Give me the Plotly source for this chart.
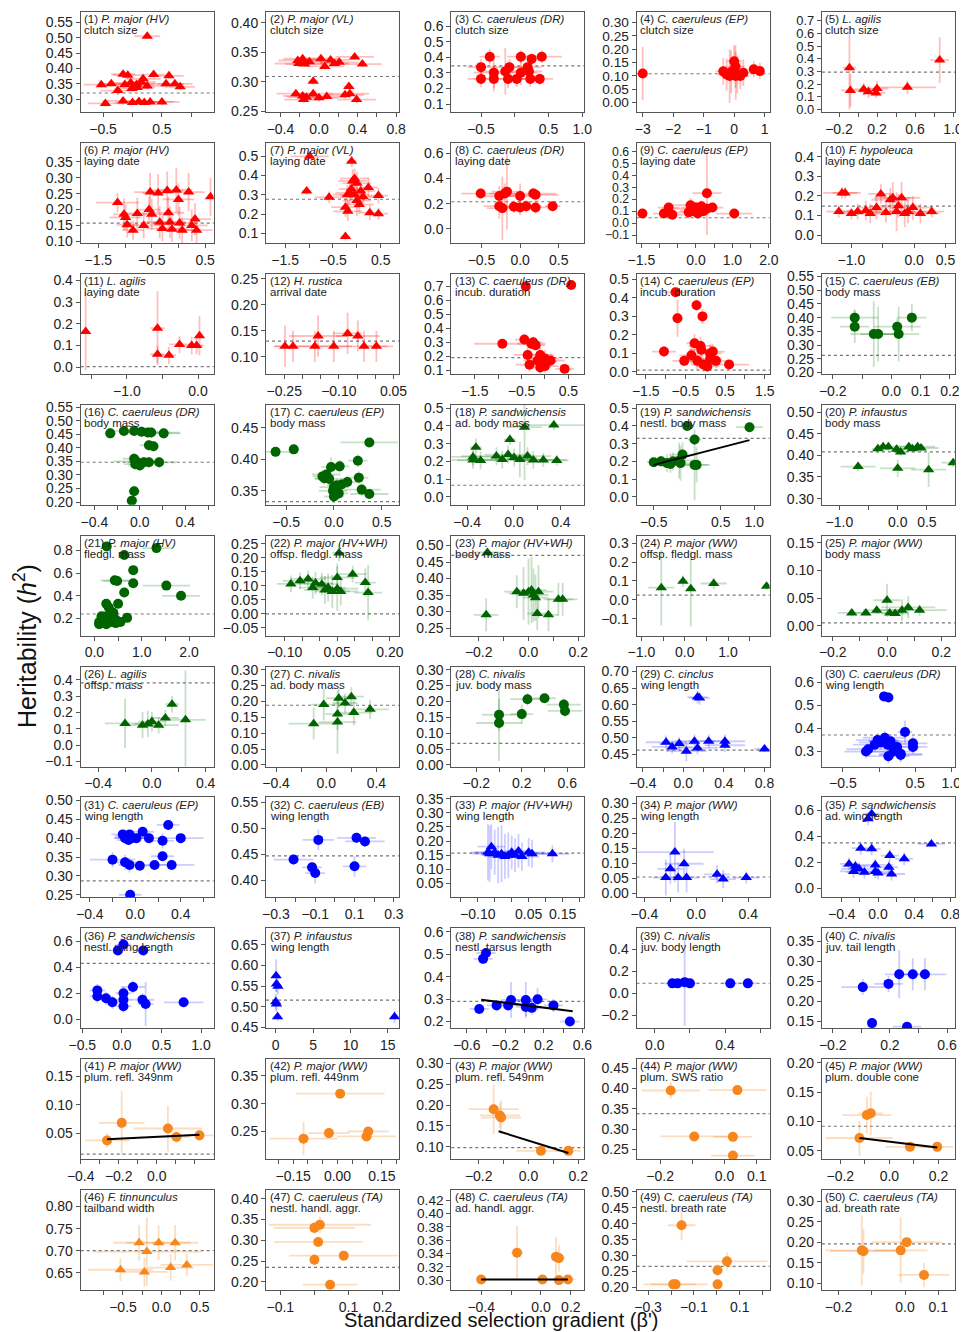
import plotly.graph_objects as go

# The page body adds an 8 px margin, so the figure is sized and placed to sit on the reference grid.
OFF = 8
W, H = 967 - OFF, 1332 - OFF

SPECIES = ["P. major (HV)", "P. major (VL)", "C. caeruleus (DR)", "C. caeruleus (EP)", "L. agilis",
           "P. major (HV)", "P. major (VL)", "C. caeruleus (DR)", "C. caeruleus (EP)", "F. hypoleuca",
           "L. agilis", "H. rustica", "C. caeruleus (DR)", "C. caeruleus (EP)", "C. caeruleus (EB)",
           "C. caeruleus (DR)", "C. caeruleus (EP)", "P. sandwichensis", "P. sandwichensis", "P. infaustus",
           "P. major (HV)", "P. major (HV+WH)", "P. major (HV+WH)", "P. major (WW)", "P. major (WW)",
           "L. agilis", "C. nivalis", "C. nivalis", "C. cinclus", "C. caeruleus (DR)",
           "C. caeruleus (EP)", "C. caeruleus (EB)", "P. major (HV+WH)", "P. major (WW)", "P. sandwichensis",
           "P. sandwichensis", "P. infaustus", "P. sandwichensis", "C. nivalis", "C. nivalis",
           "P. major (WW)", "P. major (WW)", "P. major (WW)", "P. major (WW)", "P. major (WW)",
           "F. tinnunculus", "C. caeruleus (TA)", "C. caeruleus (TA)", "C. caeruleus (TA)", "C. caeruleus (TA)"]
TRAITS = ["clutch size", "clutch size", "clutch size", "clutch size", "clutch size",
          "laying date", "laying date", "laying date", "laying date", "laying date",
          "laying date", "arrival date", "incub. duration", "incub. duration", "body mass",
          "body mass", "body mass", "ad. body mass", "nestl. body mass", "body mass",
          "fledgl. mass", "offsp. fledgl. mass", "body mass", "offsp. fledgl. mass", "body mass",
          "offsp. mass", "ad. body mass", "juv. body mass", "wing length", "wing length",
          "wing length", "wing length", "wing length", "wing length", "ad. wing length",
          "nestl. wing length", "wing length", "nestl. tarsus length", "juv. body length", "juv. tail length",
          "plum. refl. 349nm", "plum. refl. 449nm", "plum. refl. 549nm", "plum. SWS ratio", "plum. double cone",
          "tailband width", "nestl. handl. aggr.", "ad. handl. aggr.", "nestl. breath rate", "ad. breath rate"]
GROUP = ["red"] * 14 + ["green"] * 14 + ["blue"] * 12 + ["orange"] * 10
TRIANGLE_PANELS = [1, 2, 5, 6, 7, 10, 11, 12, 18, 20, 22, 23, 24, 25, 26, 27, 29, 33, 34, 35, 37, 46]

# points per panel: (selection gradient, heritability, gradient SE, heritability SE)
P01 = [(0.25, 0.505, 0.22, 0.005), (-0.16, 0.381, 0.2, 0.01), (-0.08, 0.378, 0.25, 0.012), (0.36, 0.38, 0.2, 0.01),
       (0.62, 0.376, 0.25, 0.01), (-0.53, 0.347, 0.3, 0.01), (-0.36, 0.35, 0.2, 0.01), (-0.25, 0.328, 0.3, 0.015),
       (-0.13, 0.348, 0.35, 0.01), (-0.03, 0.353, 0.3, 0.012), (0.07, 0.348, 0.3, 0.01), (0.15, 0.355, 0.25, 0.015),
       (0.25, 0.343, 0.3, 0.01), (0.18, 0.366, 0.3, 0.01), (0.57, 0.35, 0.3, 0.01), (0.72, 0.35, 0.3, 0.01),
       (0.81, 0.34, 0.25, 0.01), (-0.01, 0.335, 0.3, 0.01), (0.08, 0.338, 0.3, 0.01), (-0.46, 0.286, 0.3, 0.01),
       (-0.16, 0.294, 0.35, 0.012), (0.0, 0.289, 0.3, 0.01), (0.11, 0.292, 0.3, 0.01), (0.2, 0.289, 0.35, 0.01),
       (0.3, 0.291, 0.4, 0.01), (0.5, 0.291, 0.3, 0.01)]
P02 = [(-0.17, 0.339, 0.2, 0.005), (-0.21, 0.331, 0.25, 0.006), (-0.15, 0.33, 0.2, 0.005), (-0.1, 0.334, 0.15, 0.006),
       (0.02, 0.339, 0.2, 0.006), (0.06, 0.326, 0.2, 0.005), (0.12, 0.337, 0.2, 0.005), (0.16, 0.331, 0.15, 0.005),
       (0.21, 0.333, 0.2, 0.006), (0.37, 0.342, 0.2, 0.005), (0.45, 0.33, 0.2, 0.005), (-0.22, 0.336, 0.2, 0.005),
       (-0.24, 0.28, 0.2, 0.006), (-0.17, 0.276, 0.2, 0.006), (-0.13, 0.274, 0.2, 0.005), (-0.06, 0.28, 0.2, 0.006),
       (0.0, 0.273, 0.2, 0.006), (0.08, 0.275, 0.2, 0.005), (0.27, 0.278, 0.2, 0.006), (0.32, 0.28, 0.2, 0.006),
       (0.39, 0.27, 0.2, 0.006), (-0.06, 0.301, 0.05, 0.006), (0.31, 0.292, 0.05, 0.006), (-0.16, 0.27, 0.2, 0.006)]
P03 = [(-0.37, 0.404, 0.15, 0.05), (0.09, 0.404, 0.2, 0.04), (0.25, 0.39, 0.2, 0.04), (0.4, 0.404, 0.3, 0.04),
       (-0.5, 0.337, 0.2, 0.05), (-0.08, 0.337, 0.25, 0.05), (0.19, 0.337, 0.2, 0.05), (-0.31, 0.302, 0.3, 0.1),
       (-0.14, 0.31, 0.3, 0.15), (0.09, 0.302, 0.25, 0.08), (0.21, 0.31, 0.2, 0.05), (-0.5, 0.262, 0.2, 0.05),
       (-0.31, 0.262, 0.3, 0.08), (-0.1, 0.262, 0.25, 0.06), (0.03, 0.262, 0.2, 0.05), (0.23, 0.262, 0.2, 0.05),
       (0.37, 0.262, 0.2, 0.04)]
P04 = [(-3.0, 0.109, 0.05, 0.1), (-0.36, 0.117, 0.25, 0.05), (-0.25, 0.105, 0.3, 0.06), (-0.1, 0.115, 0.2, 0.08),
       (0.0, 0.155, 0.25, 0.06), (0.04, 0.135, 0.3, 0.08), (0.1, 0.105, 0.35, 0.07), (0.2, 0.1, 0.3, 0.05),
       (0.3, 0.112, 0.3, 0.05), (0.64, 0.125, 0.15, 0.03), (0.84, 0.118, 0.1, 0.03), (-0.15, 0.1, 0.3, 0.1),
       (0.05, 0.1, 0.4, 0.09)]
P05 = [(-0.09, 0.33, 0.07, 0.33), (-0.08, 0.15, 0.1, 0.13), (0.06, 0.16, 0.1, 0.05), (0.11, 0.14, 0.1, 0.05),
       (0.19, 0.13, 0.1, 0.04), (0.2, 0.165, 0.12, 0.06), (0.52, 0.175, 0.3, 0.05), (0.86, 0.39, 0.1, 0.18)]
P06 = [(-1.14, 0.222, 0.4, 0.03), (-1.02, 0.185, 0.2, 0.05), (-0.99, 0.175, 0.3, 0.04), (-0.96, 0.152, 0.2, 0.04),
       (-0.85, 0.135, 0.2, 0.03), (-0.77, 0.188, 0.3, 0.05), (-0.65, 0.15, 0.3, 0.04), (-0.53, 0.255, 0.3, 0.06),
       (-0.5, 0.185, 0.3, 0.05), (-0.55, 0.2, 0.2, 0.04), (-0.38, 0.252, 0.3, 0.06), (-0.35, 0.16, 0.3, 0.05),
       (-0.3, 0.14, 0.3, 0.04), (-0.21, 0.26, 0.3, 0.06), (-0.19, 0.19, 0.3, 0.05), (-0.16, 0.16, 0.3, 0.05),
       (-0.12, 0.138, 0.3, 0.04), (-0.04, 0.262, 0.3, 0.07), (0.0, 0.232, 0.3, 0.05), (0.02, 0.158, 0.3, 0.05),
       (0.07, 0.135, 0.3, 0.04), (0.19, 0.255, 0.3, 0.06), (0.25, 0.15, 0.3, 0.05), (0.31, 0.17, 0.3, 0.05),
       (0.34, 0.135, 0.3, 0.04), (0.6, 0.24, 0.05, 0.06)]
P07 = [(-0.99, 0.5, 0.4, 0.01), (-0.11, 0.474, 0.1, 0.03), (-1.05, 0.32, 0.1, 0.02), (-0.58, 0.287, 0.3, 0.03),
       (-0.24, 0.236, 0.3, 0.05), (-0.19, 0.214, 0.3, 0.05), (0.0, 0.27, 0.3, 0.08), (-0.09, 0.372, 0.3, 0.06),
       (-0.05, 0.385, 0.3, 0.05), (0.0, 0.36, 0.3, 0.06), (-0.15, 0.31, 0.3, 0.06), (-0.12, 0.33, 0.25, 0.05),
       (-0.05, 0.3, 0.3, 0.05), (0.08, 0.32, 0.3, 0.05), (0.13, 0.29, 0.3, 0.05), (0.24, 0.338, 0.2, 0.05),
       (0.27, 0.207, 0.2, 0.04), (0.45, 0.296, 0.2, 0.04), (0.45, 0.202, 0.2, 0.03), (-0.24, 0.083, 0.1, 0.02),
       (-0.2, 0.3, 0.3, 0.05), (0.05, 0.25, 0.3, 0.05)]
P08 = [(-0.51, 0.28, 0.25, 0.04), (-0.27, 0.26, 0.2, 0.08), (-0.2, 0.28, 0.2, 0.08), (-0.17, 0.295, 0.2, 0.3),
       (0.0, 0.26, 0.2, 0.1), (0.17, 0.28, 0.3, 0.05), (0.2, 0.27, 0.3, 0.05), (-0.27, 0.18, 0.2, 0.1),
       (-0.23, 0.165, 0.2, 0.25), (-0.08, 0.175, 0.2, 0.05), (0.0, 0.17, 0.2, 0.06), (0.08, 0.18, 0.2, 0.05),
       (0.2, 0.17, 0.2, 0.05), (0.42, 0.18, 0.1, 0.03)]
P09 = [(-1.47, 0.08, 0.1, 0.02), (-0.88, 0.08, 0.3, 0.02), (-0.75, 0.13, 0.3, 0.04), (-0.65, 0.07, 0.3, 0.03),
       (-0.2, 0.09, 0.4, 0.05), (-0.15, 0.15, 0.5, 0.06), (-0.1, 0.12, 0.5, 0.05), (-0.05, 0.1, 0.4, 0.05),
       (0.0, 0.13, 0.4, 0.05), (0.05, 0.08, 0.3, 0.04), (0.1, 0.11, 0.3, 0.04), (0.15, 0.14, 0.4, 0.05),
       (0.2, 0.1, 0.3, 0.04), (0.3, 0.12, 0.3, 0.05), (0.45, 0.13, 0.3, 0.03), (0.3, 0.25, 0.4, 0.35),
       (1.05, 0.08, 0.5, 0.03)]
P10 = [(-1.2, 0.12, 0.2, 0.03), (-1.15, 0.215, 0.3, 0.03), (-1.1, 0.215, 0.2, 0.03), (-1.0, 0.11, 0.2, 0.03),
       (-0.9, 0.12, 0.3, 0.04), (-0.77, 0.125, 0.3, 0.05), (-0.7, 0.11, 0.3, 0.05), (-0.6, 0.14, 0.3, 0.06),
       (-0.53, 0.21, 0.2, 0.05), (-0.45, 0.115, 0.3, 0.05), (-0.38, 0.18, 0.3, 0.06), (-0.34, 0.19, 0.3, 0.08),
       (-0.28, 0.12, 0.3, 0.1), (-0.2, 0.19, 0.3, 0.08), (-0.15, 0.11, 0.3, 0.07), (-0.1, 0.12, 0.3, 0.06),
       (-0.02, 0.14, 0.3, 0.06), (0.1, 0.11, 0.3, 0.05), (0.28, 0.12, 0.2, 0.03), (-0.25, 0.15, 0.3, 0.06)]
P11 = [(-1.58, 0.165, 0.02, 0.18), (-0.57, 0.18, 0.1, 0.17), (-0.57, 0.06, 0.1, 0.04), (-0.41, 0.055, 0.1, 0.04),
       (-0.26, 0.105, 0.15, 0.04), (-0.09, 0.1, 0.15, 0.04), (-0.02, 0.1, 0.1, 0.04), (0.02, 0.145, 0.02, 0.09)]
P12 = [(-0.248, 0.12, 0.03, 0.04), (-0.226, 0.12, 0.05, 0.03), (-0.166, 0.12, 0.05, 0.03), (-0.157, 0.14, 0.08, 0.04),
       (-0.114, 0.12, 0.05, 0.03), (-0.076, 0.145, 0.04, 0.04), (-0.048, 0.14, 0.06, 0.03), (-0.031, 0.12, 0.08, 0.03),
       (0.003, 0.12, 0.03, 0.03)]
P13 = [(-0.41, 0.7, 0.1, 0.01), (0.56, 0.71, 0.1, 0.01), (-0.91, 0.29, 0.6, 0.02), (-0.29, 0.29, 0.3, 0.04),
       (-0.44, 0.32, 0.2, 0.04), (-0.25, 0.3, 0.2, 0.04), (-0.2, 0.28, 0.2, 0.04), (-0.37, 0.21, 0.3, 0.06),
       (-0.33, 0.14, 0.3, 0.05), (-0.16, 0.17, 0.3, 0.06), (-0.1, 0.21, 0.3, 0.06), (-0.05, 0.16, 0.3, 0.05),
       (0.0, 0.185, 0.3, 0.06), (0.12, 0.17, 0.3, 0.05), (-0.1, 0.12, 0.2, 0.05), (0.0, 0.13, 0.3, 0.05),
       (0.42, 0.11, 0.2, 0.02)]
P14 = [(-0.75, 0.43, 0.3, 0.02), (-0.22, 0.36, 0.1, 0.03), (-0.7, 0.29, 0.1, 0.1), (-0.07, 0.3, 0.1, 0.04),
       (-1.04, 0.11, 0.3, 0.03), (-0.27, 0.155, 0.2, 0.05), (-0.12, 0.14, 0.3, 0.05), (-0.1, 0.12, 0.3, 0.05),
       (0.12, 0.1, 0.3, 0.05), (0.19, 0.11, 0.3, 0.04), (-0.53, 0.06, 0.3, 0.03), (-0.35, 0.09, 0.3, 0.05),
       (-0.2, 0.06, 0.3, 0.05), (-0.05, 0.04, 0.3, 0.04), (0.12, 0.07, 0.3, 0.04), (0.05, 0.03, 0.3, 0.03),
       (0.27, 0.06, 0.3, 0.04), (0.6, 0.04, 0.5, 0.02)]
P15 = [(-0.125, 0.40, 0.08, 0.03), (-0.125, 0.367, 0.05, 0.06), (-0.06, 0.34, 0.08, 0.12), (-0.045, 0.34, 0.06, 0.1),
       (0.02, 0.367, 0.08, 0.03), (0.025, 0.34, 0.07, 0.1), (0.07, 0.40, 0.05, 0.05)]
P16 = [(-0.26, 0.454, 0.05, 0.02), (-0.14, 0.463, 0.1, 0.015), (-0.05, 0.463, 0.1, 0.015), (0.015, 0.46, 0.15, 0.02),
       (0.07, 0.457, 0.2, 0.02), (0.1, 0.457, 0.25, 0.02), (0.21, 0.454, 0.15, 0.02), (0.08, 0.41, 0.08, 0.02),
       (0.12, 0.406, 0.05, 0.02), (-0.05, 0.36, 0.1, 0.02), (-0.03, 0.35, 0.2, 0.02), (-0.04, 0.34, 0.1, 0.02),
       (0.0, 0.335, 0.1, 0.02), (0.035, 0.347, 0.15, 0.02), (0.08, 0.347, 0.1, 0.02), (0.17, 0.347, 0.15, 0.02),
       (-0.05, 0.24, 0.05, 0.02), (-0.07, 0.205, 0.05, 0.015)]
P17 = [(-0.61, 0.412, 0.15, 0.005), (-0.42, 0.416, 0.05, 0.005), (0.37, 0.427, 0.3, 0.005), (0.25, 0.398, 0.1, 0.01),
       (-0.03, 0.388, 0.1, 0.015), (0.06, 0.389, 0.1, 0.01), (-0.08, 0.376, 0.15, 0.01), (-0.12, 0.373, 0.1, 0.01),
       (-0.1, 0.37, 0.1, 0.01), (-0.05, 0.369, 0.15, 0.01), (0.26, 0.371, 0.1, 0.01), (0.03, 0.359, 0.1, 0.01),
       (0.08, 0.36, 0.1, 0.01), (0.14, 0.364, 0.1, 0.01), (0.0, 0.356, 0.15, 0.01), (-0.01, 0.35, 0.15, 0.01),
       (0.05, 0.346, 0.1, 0.01), (0.29, 0.352, 0.2, 0.01), (0.0, 0.341, 0.1, 0.01), (0.37, 0.345, 0.2, 0.005)]
P18 = [(0.09, 0.393, 0.15, 0.3), (0.34, 0.405, 0.3, 0.03), (-0.035, 0.323, 0.05, 0.03), (-0.325, 0.279, 0.05, 0.05),
       (-0.35, 0.225, 0.2, 0.05), (-0.35, 0.208, 0.2, 0.05), (-0.285, 0.205, 0.2, 0.05), (-0.15, 0.23, 0.3, 0.05),
       (-0.1, 0.21, 0.3, 0.05), (-0.05, 0.238, 0.2, 0.05), (0.0, 0.221, 0.2, 0.05), (0.05, 0.21, 0.2, 0.1),
       (0.115, 0.23, 0.2, 0.05), (0.165, 0.208, 0.2, 0.05), (0.25, 0.208, 0.2, 0.04), (0.365, 0.205, 0.1, 0.03)]
P19 = [(0.0, 0.4, 0.1, 0.01), (0.93, 0.393, 0.2, 0.01), (0.11, 0.323, 0.1, 0.03), (-0.5, 0.195, 0.1, 0.02),
       (-0.39, 0.2, 0.15, 0.03), (-0.3, 0.19, 0.2, 0.05), (-0.21, 0.2, 0.2, 0.05), (-0.25, 0.185, 0.2, 0.05),
       (-0.07, 0.238, 0.2, 0.07), (-0.12, 0.205, 0.3, 0.1), (-0.1, 0.19, 0.2, 0.1), (0.11, 0.18, 0.2, 0.2),
       (0.14, 0.18, 0.2, 0.1)]
P20 = [(-0.68, 0.374, 0.3, 0.01), (-0.34, 0.415, 0.1, 0.01), (-0.25, 0.42, 0.1, 0.01), (-0.16, 0.42, 0.2, 0.01),
       (-0.02, 0.414, 0.2, 0.01), (0.05, 0.408, 0.1, 0.01), (0.19, 0.42, 0.2, 0.01), (0.25, 0.415, 0.2, 0.01),
       (0.34, 0.42, 0.3, 0.01), (0.4, 0.417, 0.3, 0.01), (0.0, 0.37, 0.3, 0.02), (0.53, 0.367, 0.3, 0.04),
       (0.95, 0.383, 0.2, 0.01)]
P21 = [(0.26, 0.835, 0.1, 0.02), (1.31, 0.82, 0.3, 0.02), (0.63, 0.76, 0.1, 0.02), (0.82, 0.626, 0.1, 0.02),
       (0.43, 0.536, 0.3, 0.02), (0.48, 0.53, 0.3, 0.02), (0.82, 0.51, 0.1, 0.02), (1.52, 0.49, 0.5, 0.02),
       (0.63, 0.43, 0.1, 0.02), (1.83, 0.4, 0.4, 0.02), (0.5, 0.33, 0.1, 0.02), (0.25, 0.33, 0.1, 0.02),
       (0.3, 0.3, 0.1, 0.03), (0.69, 0.206, 0.1, 0.02), (0.35, 0.26, 0.1, 0.03), (0.1, 0.17, 0.1, 0.02),
       (0.15, 0.18, 0.1, 0.02), (0.2, 0.2, 0.1, 0.03), (0.25, 0.22, 0.1, 0.03), (0.3, 0.2, 0.1, 0.03),
       (0.35, 0.17, 0.1, 0.02), (0.4, 0.22, 0.1, 0.03), (0.45, 0.16, 0.1, 0.02), (0.2, 0.16, 0.1, 0.02),
       (0.15, 0.22, 0.1, 0.02), (0.25, 0.15, 0.1, 0.02), (0.4, 0.25, 0.1, 0.03), (0.45, 0.19, 0.1, 0.02),
       (0.1, 0.15, 0.1, 0.02), (0.55, 0.17, 0.1, 0.02)]
P22 = [(-0.082, 0.107, 0.04, 0.03), (-0.056, 0.118, 0.05, 0.03), (-0.033, 0.125, 0.05, 0.03), (-0.02, 0.094, 0.04, 0.04),
       (-0.012, 0.11, 0.05, 0.04), (0.006, 0.106, 0.05, 0.04), (0.015, 0.085, 0.06, 0.05), (0.024, 0.094, 0.05, 0.05),
       (0.05, 0.13, 0.05, 0.05), (0.055, 0.218, 0.02, 0.03), (0.094, 0.142, 0.04, 0.03), (0.13, 0.112, 0.03, 0.05),
       (0.138, 0.076, 0.04, 0.1), (0.05, 0.09, 0.06, 0.08), (0.036, 0.08, 0.05, 0.06), (0.06, 0.08, 0.05, 0.05)]
P23 = [(-0.165, 0.479, 0.05, 0.01), (-0.17, 0.29, 0.05, 0.05), (-0.047, 0.36, 0.05, 0.05), (-0.02, 0.355, 0.06, 0.08),
       (0.0, 0.36, 0.05, 0.1), (0.012, 0.365, 0.06, 0.1), (0.02, 0.35, 0.06, 0.08), (0.04, 0.36, 0.06, 0.08),
       (0.028, 0.342, 0.05, 0.07), (0.035, 0.294, 0.04, 0.05), (0.08, 0.29, 0.04, 0.05), (0.12, 0.337, 0.06, 0.05),
       (0.137, 0.337, 0.06, 0.05)]
P24 = [(-0.54, 0.064, 0.3, 0.2), (-0.04, 0.098, 0.1, 0.03), (0.14, 0.058, 0.1, 0.2), (0.67, 0.086, 0.3, 0.03),
       (1.89, 0.072, 0.05, 0.02)]
P25 = [(-0.13, 0.023, 0.05, 0.005), (-0.078, 0.023, 0.05, 0.005), (-0.038, 0.028, 0.05, 0.005), (0.0, 0.046, 0.05, 0.03),
       (0.01, 0.023, 0.05, 0.005), (0.03, 0.022, 0.05, 0.005), (0.055, 0.028, 0.08, 0.02), (0.078, 0.033, 0.1, 0.02),
       (0.12, 0.028, 0.1, 0.01)]
P26 = [(-0.2, 0.133, 0.15, 0.15), (-0.07, 0.122, 0.1, 0.08), (-0.03, 0.13, 0.1, 0.08), (0.0, 0.144, 0.1, 0.06),
       (0.05, 0.122, 0.15, 0.05), (0.1, 0.166, 0.1, 0.05), (0.15, 0.25, 0.05, 0.05), (0.25, 0.155, 0.15, 0.3)]
P27 = [(0.1, 0.21, 0.1, 0.03), (0.15, 0.195, 0.1, 0.03), (0.2, 0.215, 0.1, 0.03), (-0.02, 0.19, 0.1, 0.05),
       (0.09, 0.16, 0.1, 0.05), (0.22, 0.165, 0.15, 0.04), (0.35, 0.175, 0.15, 0.03), (-0.1, 0.13, 0.2, 0.05),
       (0.09, 0.135, 0.15, 0.1)]
P28 = [(0.0, 0.132, 0.2, 0.12), (0.0, 0.158, 0.15, 0.05), (0.2, 0.16, 0.1, 0.03), (0.25, 0.207, 0.15, 0.02),
       (0.4, 0.21, 0.1, 0.01), (0.57, 0.19, 0.15, 0.02), (0.58, 0.17, 0.15, 0.02)]
P29 = [(0.14, 0.623, 0.1, 0.02), (0.16, 0.62, 0.1, 0.02), (-0.17, 0.487, 0.2, 0.02), (-0.11, 0.473, 0.2, 0.02),
       (-0.04, 0.483, 0.2, 0.02), (0.03, 0.46, 0.2, 0.03), (0.11, 0.49, 0.2, 0.02), (0.14, 0.47, 0.2, 0.02),
       (0.25, 0.49, 0.2, 0.02), (0.41, 0.49, 0.2, 0.02), (0.41, 0.478, 0.2, 0.02), (0.8, 0.467, 0.1, 0.01)]
P30 = [(0.07, 0.54, 0.05, 0.01), (0.13, 0.535, 0.05, 0.01), (0.36, 0.385, 0.1, 0.05), (-0.06, 0.33, 0.3, 0.03),
       (-0.02, 0.35, 0.3, 0.03), (0.02, 0.34, 0.3, 0.03), (0.08, 0.36, 0.3, 0.03), (0.12, 0.33, 0.3, 0.03),
       (0.16, 0.345, 0.3, 0.03), (0.2, 0.3, 0.3, 0.03), (0.25, 0.32, 0.3, 0.03), (0.3, 0.29, 0.3, 0.03),
       (0.47, 0.336, 0.2, 0.03), (0.47, 0.32, 0.2, 0.03), (-0.18, 0.3, 0.3, 0.03), (0.13, 0.28, 0.3, 0.03),
       (0.3, 0.285, 0.3, 0.03), (-0.15, 0.31, 0.3, 0.02), (0.05, 0.345, 0.2, 0.03)]
P31 = [(0.29, 0.435, 0.1, 0.01), (0.4, 0.4, 0.2, 0.01), (0.24, 0.393, 0.1, 0.02), (-0.11, 0.41, 0.1, 0.01),
       (-0.08, 0.405, 0.1, 0.01), (-0.05, 0.41, 0.1, 0.01), (-0.03, 0.4, 0.15, 0.01), (0.01, 0.4, 0.15, 0.01),
       (0.065, 0.417, 0.1, 0.01), (0.12, 0.4, 0.1, 0.01), (-0.06, 0.395, 0.1, 0.01), (-0.09, 0.4, 0.1, 0.01),
       (-0.2, 0.343, 0.2, 0.02), (-0.09, 0.336, 0.1, 0.02), (-0.05, 0.329, 0.1, 0.02), (0.04, 0.327, 0.1, 0.01),
       (0.17, 0.329, 0.1, 0.01), (0.24, 0.352, 0.1, 0.01), (0.32, 0.329, 0.2, 0.01), (-0.045, 0.25, 0.1, 0.005)]
P32 = [(-0.21, 0.44, 0.1, 0.01), (-0.116, 0.425, 0.05, 0.01), (-0.1, 0.414, 0.05, 0.02), (-0.084, 0.478, 0.08, 0.02),
       (0.11, 0.482, 0.1, 0.01), (0.153, 0.475, 0.1, 0.01), (0.1, 0.427, 0.06, 0.02)]
P33 = [(-0.06, 0.18, 0.04, 0.08), (-0.065, 0.155, 0.05, 0.1), (-0.05, 0.16, 0.06, 0.08), (-0.04, 0.15, 0.05, 0.1),
       (-0.03, 0.155, 0.05, 0.1), (-0.02, 0.145, 0.05, 0.08), (-0.01, 0.15, 0.05, 0.08), (0.0, 0.16, 0.04, 0.06),
       (0.01, 0.15, 0.05, 0.06), (0.02, 0.165, 0.04, 0.06), (0.03, 0.145, 0.05, 0.05), (0.05, 0.16, 0.05, 0.05),
       (0.06, 0.155, 0.05, 0.05), (0.12, 0.155, 0.05, 0.03), (-0.07, 0.16, 0.05, 0.1)]
P34 = [(-0.165, 0.138, 0.3, 0.1), (-0.2, 0.082, 0.1, 0.05), (-0.094, 0.099, 0.15, 0.05), (-0.235, 0.053, 0.1, 0.06),
       (-0.14, 0.053, 0.1, 0.05), (-0.075, 0.053, 0.1, 0.05), (0.16, 0.064, 0.1, 0.03), (0.207, 0.048, 0.1, 0.03),
       (0.385, 0.053, 0.1, 0.02)]
P35 = [(-0.07, 0.574, 0.1, 0.03), (-0.11, 0.535, 0.05, 0.05), (0.59, 0.342, 0.15, 0.02), (-0.19, 0.309, 0.1, 0.05),
       (-0.07, 0.304, 0.1, 0.05), (-0.32, 0.188, 0.1, 0.05), (-0.21, 0.15, 0.2, 0.05), (-0.15, 0.124, 0.2, 0.05),
       (-0.03, 0.18, 0.2, 0.05), (0.13, 0.252, 0.1, 0.05), (0.29, 0.227, 0.1, 0.05), (0.12, 0.162, 0.1, 0.05),
       (0.15, 0.11, 0.15, 0.05), (-0.27, 0.13, 0.15, 0.05), (-0.03, 0.13, 0.15, 0.05), (0.0, 0.118, 0.15, 0.05),
       (-0.25, 0.17, 0.15, 0.05)]
P36 = [(-0.05, 0.53, 0.1, 0.02), (0.02, 0.575, 0.1, 0.03), (0.27, 0.53, 0.1, 0.02), (-0.31, 0.222, 0.1, 0.05),
       (-0.31, 0.177, 0.1, 0.05), (-0.2, 0.162, 0.1, 0.05), (-0.12, 0.13, 0.1, 0.05), (0.02, 0.2, 0.1, 0.05),
       (0.02, 0.15, 0.1, 0.05), (0.14, 0.248, 0.15, 0.05), (0.02, 0.1, 0.1, 0.05), (0.26, 0.15, 0.15, 0.05),
       (0.3, 0.117, 0.1, 0.17), (0.78, 0.13, 0.25, 0.02)]
P37 = [(0.05, 0.575, 0.2, 0.04), (0.1, 0.555, 0.2, 0.02), (0.3, 0.55, 0.2, 0.02), (0.0, 0.512, 0.3, 0.02),
       (0.1, 0.507, 0.3, 0.02), (0.25, 0.476, 0.2, 0.01), (15.9, 0.476, 0.1, 0.015)]
P38 = [(-0.43, 0.479, 0.1, 0.02), (-0.4, 0.505, 0.1, 0.02), (-0.47, 0.256, 0.1, 0.02), (-0.29, 0.272, 0.1, 0.02),
       (-0.17, 0.272, 0.1, 0.02), (-0.14, 0.296, 0.1, 0.08), (0.013, 0.296, 0.15, 0.08), (0.013, 0.265, 0.1, 0.04),
       (0.075, 0.261, 0.1, 0.03), (0.135, 0.299, 0.1, 0.05), (0.3, 0.272, 0.1, 0.03), (0.47, 0.2, 0.1, 0.01)]
P39 = [(0.1, 0.089, 0.05, 0.02), (0.13, 0.089, 0.05, 0.02), (0.17, 0.1, 0.05, 0.4), (0.2, 0.089, 0.05, 0.02),
       (0.43, 0.089, 0.05, 0.02), (0.53, 0.089, 0.05, 0.01)]
P40 = [(0.01, 0.236, 0.15, 0.02), (0.075, 0.146, 0.02, 0.01), (0.19, 0.244, 0.1, 0.02), (0.265, 0.268, 0.1, 0.06),
       (0.32, 0.137, 0.1, 0.005), (0.36, 0.268, 0.1, 0.04), (0.445, 0.268, 0.15, 0.04)]
P41 = [(-0.261, 0.037, 0.117, 0.013), (-0.184, 0.068, 0.12, 0.056), (0.059, 0.058, 0.18, 0.04),
       (0.104, 0.043, 0.07, 0.01), (0.225, 0.046, 0.08, 0.01)]
P42 = [(0.009, 0.318, 0.15, 0.005), (-0.115, 0.237, 0.115, 0.03), (-0.029, 0.247, 0.07, 0.006),
       (0.104, 0.25, 0.07, 0.005), (0.098, 0.241, 0.1, 0.008)]
P43 = [(-0.14, 0.19, 0.1, 0.06), (-0.115, 0.175, 0.08, 0.03), (-0.11, 0.17, 0.08, 0.04), (0.05, 0.09, 0.1, 0.005),
       (0.16, 0.09, 0.05, 0.005)]
P44 = [(-0.167, 0.395, 0.09, 0.02), (0.04, 0.396, 0.09, 0.005), (-0.094, 0.282, 0.105, 0.008),
       (0.026, 0.281, 0.06, 0.008), (0.026, 0.235, 0.068, 0.005)]
P45 = [(-0.122, 0.072, 0.137, 0.03), (-0.092, 0.111, 0.1, 0.031), (-0.076, 0.114, 0.05, 0.037),
       (0.084, 0.057, 0.1, 0.004), (0.195, 0.057, 0.065, 0.004)]
P46 = [(-0.29, 0.718, 0.34, 0.04), (-0.036, 0.718, 0.42, 0.04), (0.178, 0.718, 0.3, 0.04), (-0.19, 0.698, 0.7, 0.077),
       (-0.533, 0.657, 0.42, 0.026), (-0.222, 0.652, 0.3, 0.033), (0.12, 0.662, 0.3, 0.03), (0.33, 0.668, 0.34, 0.025)]
P47 = [(0.0, 0.33, 0.12, 0.015), (0.016, 0.3375, 0.15, 0.02), (0.011, 0.296, 0.13, 0.01), (0.0, 0.253, 0.01, 0.015),
       (0.086, 0.263, 0.16, 0.01), (0.046, 0.193, 0.08, 0.008)]
P48 = [(-0.4, 0.301, 0.02, 0.003), (-0.16, 0.341, 0.04, 0.04), (0.01, 0.301, 0.02, 0.003), (0.1, 0.335, 0.03, 0.03),
       (0.12, 0.333, 0.04, 0.02), (0.12, 0.3, 0.02, 0.003), (0.18, 0.301, 0.05, 0.003)]
P49 = [(-0.154, 0.395, 0.06, 0.047), (0.044, 0.282, 0.176, 0.028), (0.003, 0.254, 0.005, 0.018),
       (-0.18, 0.21, 0.14, 0.005), (-0.19, 0.21, 0.1, 0.005), (0.003, 0.21, 0.005, 0.01)]
P50 = [(-0.13, 0.18, 0.11, 0.085), (-0.125, 0.178, 0.1, 0.055), (-0.013, 0.18, 0.08, 0.08), (0.005, 0.2, 0.105, 0.01),
       (0.057, 0.12, 0.077, 0.03)]

PANELS = [P01, P02, P03, P04, P05, P06, P07, P08, P09, P10, P11, P12, P13, P14, P15, P16, P17, P18, P19, P20,
          P21, P22, P23, P24, P25, P26, P27, P28, P29, P30, P31, P32, P33, P34, P35, P36, P37, P38, P39, P40,
          P41, P42, P43, P44, P45, P46, P47, P48, P49, P50]

# dotted reference heritability per panel (None = not drawn)
HREF = [0.32, 0.309, 0.345, 0.108, 0.295, 0.157, 0.277, 0.215, 0.045, 0.148,
        0.003, 0.13, 0.19, 0.01, 0.262, 0.347, 0.333, 0.065, 0.33, 0.408,
        0.24, 0.0, 0.47, 0.025, 0.005, 0.38, 0.188, 0.068, 0.463, 0.372,
        0.287, 0.447, 0.157, 0.055, 0.35, 0.43, 0.516, 0.29, 0.09, None,
        0.013, None, 0.098, 0.338, 0.092, 0.70, 0.235, None, 0.266, 0.196]

# significant regressions: panel -> (x0, y0, x1, y1)
REG = {19: (-0.5, 0.18, 0.93, 0.32), 38: (-0.45, 0.297, 0.5, 0.246), 41: (-0.261, 0.039, 0.225, 0.047),
       43: (-0.12, 0.137, 0.16, 0.085), 45: (-0.122, 0.072, 0.195, 0.056), 48: (-0.4, 0.301, 0.18, 0.301)}

YRANGE = [(0.258, 0.584), (0.249, 0.418), (0.05, 0.69), (-0.035, 0.339), (-0.02, 0.77),
          (0.095, 0.41), (0.05, 0.57), (-0.11, 0.68), (-0.165, 0.67), (-0.04, 0.47),
          (-0.03, 0.43), (0.067, 0.26), (0.075, 0.79), (-0.01, 0.53), (0.195, 0.56),
          (0.19, 0.56), (0.328, 0.487), (-0.045, 0.52), (-0.045, 0.52), (0.286, 0.517),
          (0.05, 0.93), (-0.078, 0.28), (0.227, 0.53), (-0.19, 0.34), (-0.018, 0.163),
          (-0.13, 0.48), (-0.005, 0.31), (-0.005, 0.31), (0.414, 0.715), (0.235, 0.67),
          (0.243, 0.508), (0.367, 0.56), (0.0, 0.355), (-0.013, 0.32), (-0.07, 0.7),
          (-0.07, 0.7), (0.448, 0.69), (0.17, 0.615), (-0.32, 0.59), (0.133, 0.383),
          (0.004, 0.18), (0.20, 0.38), (0.07, 0.31), (0.226, 0.472), (0.036, 0.206),
          (0.611, 0.837), (0.18, 0.421), (0.285, 0.435), (0.192, 0.505), (0.083, 0.327)]
# y ticks: (first, last, step, decimals)
YTICK = [(0.30, 0.55, 0.05, 2), (0.25, 0.40, 0.05, 2), (0.1, 0.6, 0.1, 1), (0.0, 0.30, 0.05, 2), (0.0, 0.7, 0.1, 1),
         (0.10, 0.35, 0.05, 2), (0.1, 0.5, 0.1, 1), (0.0, 0.6, 0.2, 1), (-0.1, 0.6, 0.1, 1), (0.0, 0.4, 0.1, 1),
         (0.0, 0.4, 0.1, 1), (0.10, 0.25, 0.05, 2), (0.1, 0.7, 0.1, 1), (0.0, 0.5, 0.1, 1), (0.20, 0.55, 0.05, 2),
         (0.20, 0.55, 0.05, 2), (0.35, 0.45, 0.05, 2), (0.0, 0.5, 0.1, 1), (0.0, 0.5, 0.1, 1), (0.30, 0.50, 0.05, 2),
         (0.2, 0.8, 0.2, 1), (-0.05, 0.25, 0.05, 2), (0.25, 0.50, 0.05, 2), (-0.1, 0.3, 0.1, 1), (0.0, 0.15, 0.05, 2),
         (-0.1, 0.4, 0.1, 1), (0.0, 0.30, 0.05, 2), (0.0, 0.30, 0.05, 2), (0.45, 0.70, 0.05, 2), (0.3, 0.6, 0.1, 1),
         (0.25, 0.50, 0.05, 2), (0.40, 0.55, 0.05, 2), (0.05, 0.35, 0.05, 2), (0.0, 0.30, 0.05, 2), (0.0, 0.6, 0.2, 1),
         (0.0, 0.6, 0.2, 1), (0.45, 0.65, 0.05, 2), (0.2, 0.6, 0.1, 1), (-0.2, 0.4, 0.2, 1), (0.15, 0.35, 0.05, 2),
         (0.05, 0.15, 0.05, 2), (0.25, 0.35, 0.05, 2), (0.10, 0.30, 0.05, 2), (0.25, 0.45, 0.05, 2), (0.05, 0.20, 0.05, 2),
         (0.65, 0.80, 0.05, 2), (0.20, 0.40, 0.05, 2), (0.30, 0.42, 0.02, 2), (0.20, 0.50, 0.05, 2), (0.10, 0.30, 0.05, 2)]

XRANGE = [(-0.88, 1.38), (-0.55, 0.83), (-0.94, 1.03), (-3.2, 1.16), (-0.38, 1.02),
          (-1.83, 0.66), (-1.9, 0.88), (-0.89, 0.83), (-1.63, 2.02), (-1.47, 0.65),
          (-1.65, 0.22), (-0.30, 0.065), (-2.0, 0.84), (-1.73, 1.62), (-0.237, 0.217),
          (-0.52, 0.65), (-0.71, 0.68), (-0.535, 0.6), (-0.755, 1.23), (-1.3, 0.98),
          (-0.29, 2.52), (-0.153, 0.226), (-0.31, 0.224), (-1.11, 1.96), (-0.24, 0.25),
          (-0.53, 0.46), (-0.48, 0.58), (-0.42, 0.75), (-0.46, 0.85), (-0.79, 1.05),
          (-0.48, 0.69), (-0.35, 0.326), (-0.178, 0.214), (-0.46, 0.565), (-0.62, 0.85),
          (-0.52, 1.16), (-1.3, 16.5), (-0.76, 0.62), (-0.104, 0.654), (-0.276, 0.655),
          (-0.40, 0.30), (-0.242, 0.208), (-0.31, 0.224), (-0.273, 0.14), (-0.275, 0.267),
          (-1.05, 0.68), (-0.142, 0.248), (-0.6, 0.29), (-0.35, 0.23), (-0.25, 0.15)]
# x ticks: (first, last, step, decimals, labelled values or None for all)
XTICK = [(-0.5, 1.0, 0.5, 1, [-0.5, 0.5]), (-0.4, 0.8, 0.2, 1, [-0.4, 0.0, 0.4, 0.8]),
         (-0.5, 1.0, 0.5, 1, [-0.5, 0.5, 1.0]), (-3, 1, 1, 0, None),
         (-0.2, 1.0, 0.2, 1, [-0.2, 0.2, 0.6, 1.0]), (-1.5, 0.5, 0.5, 1, [-1.5, -0.5, 0.5]),
         (-1.5, 0.5, 0.5, 1, [-1.5, -0.5, 0.5]), (-0.5, 0.5, 0.5, 1, None),
         (-1.5, 2.0, 0.5, 1, [-1.5, 0.0, 1.0, 2.0]), (-1.0, 0.5, 0.5, 1, [-1.0, 0.0, 0.5]),
         (-1.5, 0.0, 0.5, 1, [-1.0, 0.0]), (-0.25, 0.05, 0.05, 2, [-0.25, -0.10, 0.05]),
         (-1.5, 0.5, 0.5, 1, [-1.5, -0.5, 0.5]), (-1.5, 1.5, 0.5, 1, [-1.5, -0.5, 0.5, 1.5]),
         (-0.2, 0.2, 0.1, 1, [-0.2, 0.0, 0.1, 0.2]), (-0.4, 0.6, 0.2, 1, [-0.4, 0.0, 0.4]),
         (-0.5, 0.5, 0.5, 1, None), (-0.4, 0.4, 0.2, 1, [-0.4, 0.0, 0.4]),
         (-0.5, 1.0, 0.5, 1, [-0.5, 0.5, 1.0]), (-1.0, 0.5, 0.5, 1, [-1.0, 0.0, 0.5]),
         (0.0, 2.0, 0.5, 1, [0.0, 1.0, 2.0]), (-0.10, 0.20, 0.05, 2, [-0.10, 0.05, 0.20]),
         (-0.2, 0.2, 0.1, 1, [-0.2, 0.0, 0.2]), (-1.0, 1.5, 0.5, 1, [-1.0, 0.0, 1.0]),
         (-0.2, 0.2, 0.1, 1, [-0.2, 0.0, 0.2]), (-0.4, 0.4, 0.2, 1, [-0.4, 0.0, 0.4]),
         (-0.4, 0.4, 0.2, 1, [-0.4, 0.0, 0.4]), (-0.2, 0.6, 0.2, 1, [-0.2, 0.2, 0.6]),
         (-0.4, 0.8, 0.2, 1, [-0.4, 0.0, 0.4, 0.8]), (-0.5, 1.0, 0.5, 1, [-0.5, 0.5, 1.0]),
         (-0.4, 0.6, 0.2, 1, [-0.4, 0.0, 0.4]), (-0.3, 0.3, 0.1, 1, [-0.3, -0.1, 0.1, 0.3]),
         (-0.15, 0.20, 0.05, 2, [-0.10, 0.05, 0.15]), (-0.4, 0.4, 0.2, 1, [-0.4, 0.0, 0.4]),
         (-0.4, 0.8, 0.2, 1, [-0.4, 0.0, 0.4, 0.8]), (-0.5, 1.0, 0.5, 1, None),
         (0, 15, 5, 0, None), (-0.6, 0.6, 0.2, 1, [-0.6, -0.2, 0.2, 0.6]),
         (0.0, 0.6, 0.2, 1, [0.0, 0.4]), (-0.2, 0.6, 0.2, 1, [-0.2, 0.2, 0.6]),
         (-0.4, 0.2, 0.1, 1, [-0.4, -0.2, 0.0]), (-0.20, 0.20, 0.05, 2, [-0.15, 0.0, 0.15]),
         (-0.2, 0.2, 0.1, 1, [-0.2, 0.0, 0.2]), (-0.2, 0.1, 0.1, 1, [-0.2, 0.0, 0.1]),
         (-0.2, 0.2, 0.1, 1, [-0.2, 0.0, 0.2]), (-0.75, 0.5, 0.25, 1, [-0.5, 0.0, 0.5]),
         (-0.1, 0.2, 0.1, 1, [-0.1, 0.1, 0.2]), (-0.4, 0.2, 0.2, 1, [-0.4, 0.0, 0.2]),
         (-0.3, 0.2, 0.1, 1, [-0.3, -0.1, 0.1]), (-0.2, 0.1, 0.1, 1, [-0.2, 0.0, 0.1])]

# ---------------------------------------------------------------- styling / layout
MARK = {"red": "#FF0000", "green": "#006400", "blue": "#0000FF", "orange": "#F7861C"}
ERR = {"red": "rgba(255,0,0,0.25)", "green": "rgba(0,110,0,0.22)",
       "blue": "rgba(0,0,255,0.2)", "orange": "rgba(247,134,28,0.28)"}
COL_LEFT = [80.7, 266.0, 451.3, 636.6, 821.9]     # reference-pixel positions of the panel boxes
BOX_W = 133.0
ROW_TOP = [12.0 + 130.9 * i for i in range(10)]
BOX_H = 100.0
FONT = "Liberation Sans, Arial, Helvetica, sans-serif"
AXC = "#555555"


def px(xr):
    return (xr - OFF) / W


def py(yr):
    return 1 - (yr - OFF) / H


def make_ticks(first, last, step, dec, labelled=None):
    n = int(round((last - first) / step)) + 1
    vals = [round(first + i * step, 6) for i in range(n)]
    text = []
    for v in vals:
        if labelled is None or any(abs(v - l) < 1e-9 for l in labelled):
            s = f"{abs(v):.{dec}f}"
            if v < -1e-12:
                s = "\u2212" + s
            text.append(s)
        else:
            text.append(" ")
    return vals, text


fig = go.Figure()
layout = dict(template="none", width=W, height=H, margin=dict(l=0, r=0, t=0, b=0, pad=0, autoexpand=False),
              paper_bgcolor="white", plot_bgcolor="white", showlegend=False,
              font=dict(family=FONT, color="#222222"))
annotations = []
shapes = []

for i in range(50):
    k = i + 1
    r, c = divmod(i, 5)
    ytop = ROW_TOP[r]
    xa = "x" if k == 1 else f"x{k}"
    ya = "y" if k == 1 else f"y{k}"
    xname = "xaxis" if k == 1 else f"xaxis{k}"
    yname = "yaxis" if k == 1 else f"yaxis{k}"

    xv, xt = make_ticks(*XTICK[i])
    yt0, yt1, yst, ydec = YTICK[i]
    yv, ytt = make_ticks(yt0, yt1, yst, ydec, None)
    # tightly packed y labels get a slightly smaller font so they do not collide
    spacing = BOX_H * yst / (YRANGE[i][1] - YRANGE[i][0])
    yfs = min(14.0, spacing + 0.3)

    common = dict(showgrid=False, zeroline=False, showline=True, mirror=True, automargin=False,
                  linecolor=AXC, linewidth=1, ticks="outside", ticklen=4, tickwidth=1,
                  tickcolor=AXC, tickmode="array", tickangle=0, fixedrange=True)
    layout[xname] = dict(domain=[px(COL_LEFT[c]), px(COL_LEFT[c] + BOX_W)], range=list(XRANGE[i]),
                         anchor=ya, tickvals=xv, ticktext=xt,
                         tickfont=dict(family=FONT, size=14, color="#222222"), **common)
    layout[yname] = dict(domain=[py(ytop + BOX_H), py(ytop)], range=list(YRANGE[i]),
                         anchor=xa, tickvals=yv, ticktext=ytt,
                         tickfont=dict(family=FONT, size=yfs, color="#222222"), **common)

    g = GROUP[i]
    pts = PANELS[i]
    sym = "triangle-up" if k in TRIANGLE_PANELS else "circle"

    if HREF[i] is not None:
        shapes.append(dict(type="line", xref=f"{xa} domain", yref=ya, x0=0, x1=1,
                           y0=HREF[i], y1=HREF[i], line=dict(color="#777777", width=1.2, dash="dot"),
                           layer="below"))

    fig.add_trace(go.Scatter(
        x=[p[0] for p in pts], y=[p[1] for p in pts], xaxis=xa, yaxis=ya, mode="markers",
        marker=dict(symbol=sym, size=10, color=MARK[g], line=dict(width=0)),
        error_x=dict(type="data", array=[p[2] for p in pts], symmetric=True, color=ERR[g],
                     thickness=1.8, width=0),
        error_y=dict(type="data", array=[p[3] for p in pts], symmetric=True, color=ERR[g],
                     thickness=1.8, width=0),
        cliponaxis=True, hoverinfo="skip"))

    if k in REG:
        rx0, ry0, rx1, ry1 = REG[k]
        fig.add_trace(go.Scatter(x=[rx0, rx1], y=[ry0, ry1], xaxis=xa, yaxis=ya, mode="lines",
                                 line=dict(color="black", width=2), hoverinfo="skip"))

    lx = px(COL_LEFT[c] + 1.5)
    annotations.append(dict(xref="paper", yref="paper", x=lx, y=py(ytop + 7.2),
                            xanchor="left", yanchor="middle", showarrow=False, align="left",
                            text=f"({k}) <i>{SPECIES[i]}</i>",
                            font=dict(family=FONT, size=11.5, color="#222222")))
    annotations.append(dict(xref="paper", yref="paper", x=lx, y=py(ytop + 18.2),
                            xanchor="left", yanchor="middle", showarrow=False, align="left",
                            text=TRAITS[i], font=dict(family=FONT, size=11.5, color="#222222")))

annotations.append(dict(xref="paper", yref="paper", x=px(25), y=py(646), xanchor="center",
                        yanchor="middle", showarrow=False, textangle=-90,
                        text="Heritability (<i>h</i><sup>2</sup>)",
                        font=dict(family=FONT, size=25, color="#111111")))
annotations.append(dict(xref="paper", yref="paper", x=px(501), y=py(1319.5), xanchor="center",
                        yanchor="middle", showarrow=False,
                        text="Standardized selection gradient (\u03b2')",
                        font=dict(family=FONT, size=20, color="#111111")))

layout["annotations"] = annotations
layout["shapes"] = shapes
fig.update_layout(**layout)
fig.write_html("out.html")
